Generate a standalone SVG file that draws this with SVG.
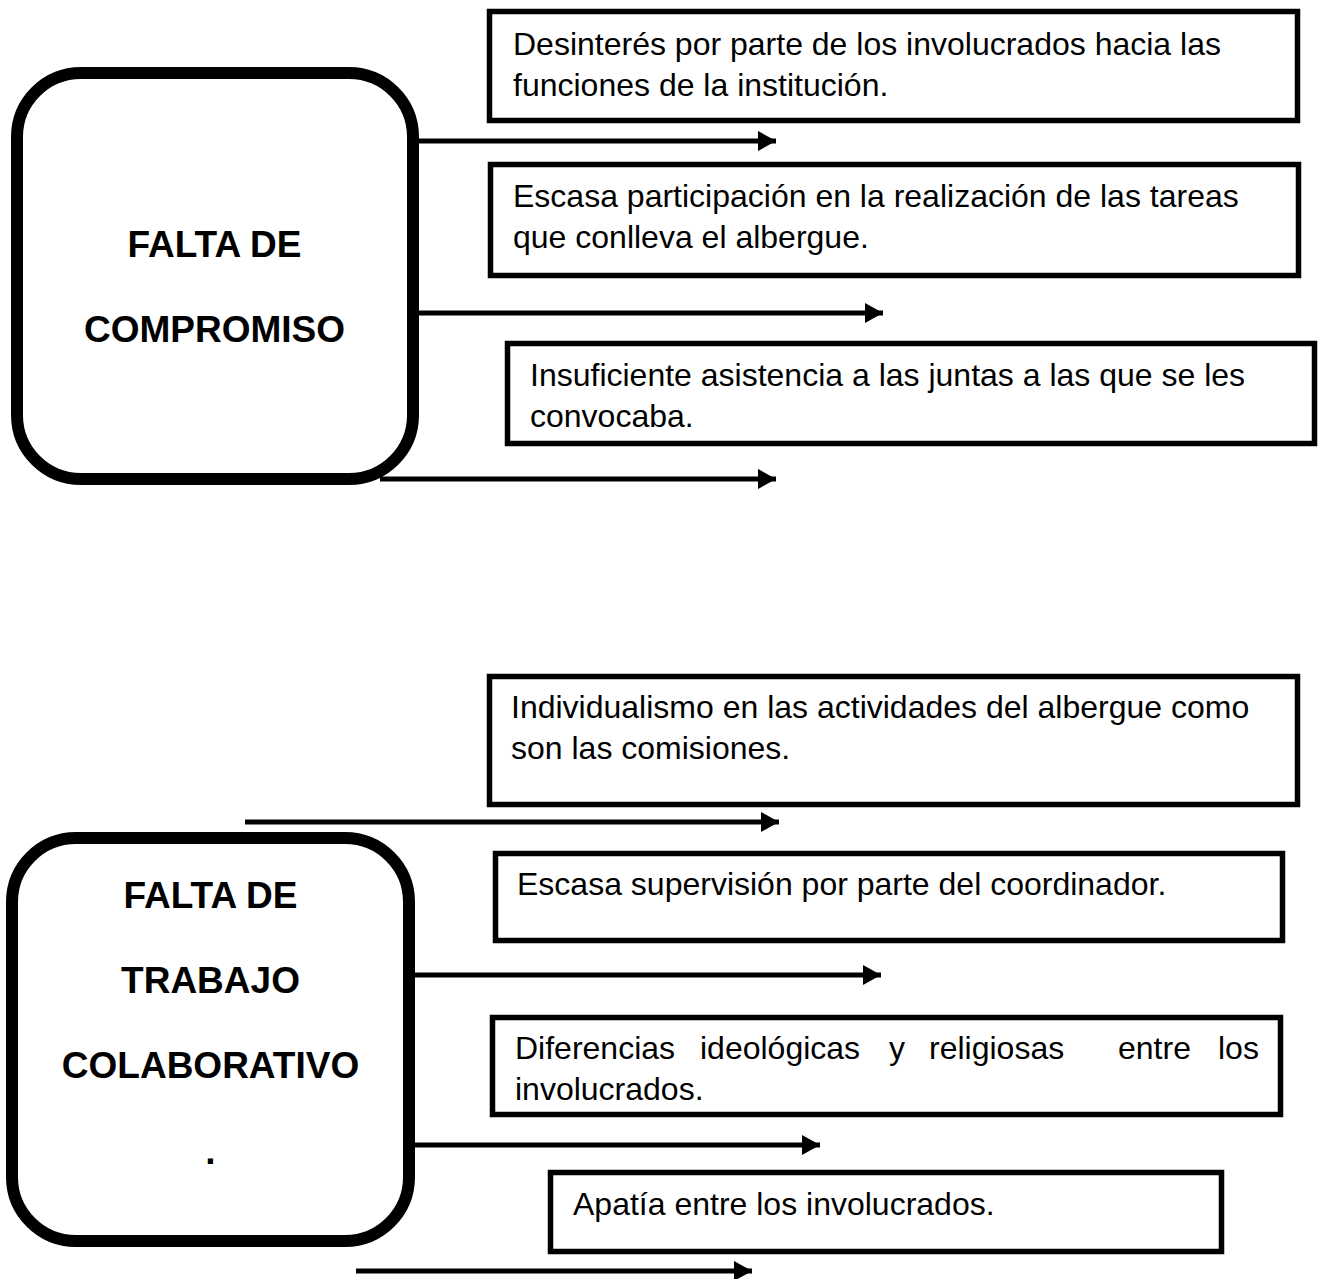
<svg xmlns="http://www.w3.org/2000/svg" width="1319" height="1279" viewBox="0 0 1319 1279">
<style>
.node{fill:#fff;stroke:#000;stroke-width:12}
.box{fill:#fff;stroke:#000;stroke-width:5.5}
.title{font-family:"Liberation Sans",Arial,sans-serif;font-weight:bold;font-size:37px;fill:#000;text-anchor:middle}
.txt{font-family:"Liberation Sans",Arial,sans-serif;font-size:32px;fill:#000}
.conn{stroke:#000;stroke-width:5;fill:none;marker-end:url(#arr)}
</style>
<defs>
<marker id="arr" markerUnits="userSpaceOnUse" markerWidth="18" markerHeight="20" refX="18" refY="10" orient="auto" viewBox="0 0 18 20">
<path d="M0,0 L18,10 L0,20 z" fill="#000"/>
</marker>
</defs>
<rect width="1319" height="1279" fill="#fff"/>

<g id="connectors">
<line class="conn" x1="412" y1="141" x2="776" y2="141"/>
<line class="conn" x1="412" y1="313" x2="883" y2="313"/>
<line class="conn" x1="380" y1="479" x2="776" y2="479"/>
<line class="conn" x1="245" y1="822" x2="779" y2="822"/>
<line class="conn" x1="409" y1="975" x2="881" y2="975"/>
<line class="conn" x1="409" y1="1145" x2="820" y2="1145"/>
<line class="conn" x1="356" y1="1271" x2="752" y2="1271"/>
</g>

<g id="node-compromiso">
<rect class="node" x="17" y="73" width="396" height="406" rx="64" ry="64"/>
<text class="title" x="214.5" y="257">FALTA DE</text>
<text class="title" x="214.5" y="342">COMPROMISO</text>
</g>

<g id="box-desinteres">
<rect class="box" x="489.5" y="11.5" width="808" height="109"/>
<text class="txt" x="513" y="55">Desinterés por parte de los involucrados hacia las</text>
<text class="txt" x="513" y="96">funciones de la institución.</text>
</g>

<g id="box-escasa-participacion">
<rect class="box" x="490.5" y="164.5" width="808" height="111"/>
<text class="txt" x="513" y="207">Escasa participación en la realización de las tareas</text>
<text class="txt" x="513" y="248">que conlleva el albergue.</text>
</g>

<g id="box-insuficiente">
<rect class="box" x="507.5" y="343.5" width="807" height="100"/>
<text class="txt" x="530" y="386">Insuficiente asistencia a las juntas a las que se les</text>
<text class="txt" x="530" y="427">convocaba.</text>
</g>

<g id="node-colaborativo">
<rect class="node" x="12" y="838" width="397" height="403" rx="64" ry="64"/>
<text class="title" x="210.5" y="908">FALTA DE</text>
<text class="title" x="210.5" y="993">TRABAJO</text>
<text class="title" x="210.5" y="1078">COLABORATIVO</text>
<text class="title" x="210.5" y="1164">.</text>
</g>

<g id="box-individualismo">
<rect class="box" x="489.5" y="676.5" width="808" height="128"/>
<text class="txt" x="511" y="718">Individualismo en las actividades del albergue como</text>
<text class="txt" x="511" y="759">son las comisiones.</text>
</g>

<g id="box-supervision">
<rect class="box" x="495.5" y="853.5" width="787" height="87"/>
<text class="txt" x="517" y="895">Escasa supervisión por parte del coordinador.</text>
</g>

<g id="box-diferencias">
<rect class="box" x="492.5" y="1017.5" width="788" height="97"/>
<text class="txt" y="1059"><tspan x="515">Diferencias</tspan><tspan x="700">ideológicas</tspan><tspan x="889">y</tspan><tspan x="929">religiosas</tspan><tspan x="1118">entre</tspan><tspan x="1218">los</tspan></text>
<text class="txt" x="515" y="1100">involucrados.</text>
</g>

<g id="box-apatia">
<rect class="box" x="550.5" y="1172.5" width="671" height="79"/>
<text class="txt" x="573" y="1215">Apatía entre los involucrados.</text>
</g>
</svg>
